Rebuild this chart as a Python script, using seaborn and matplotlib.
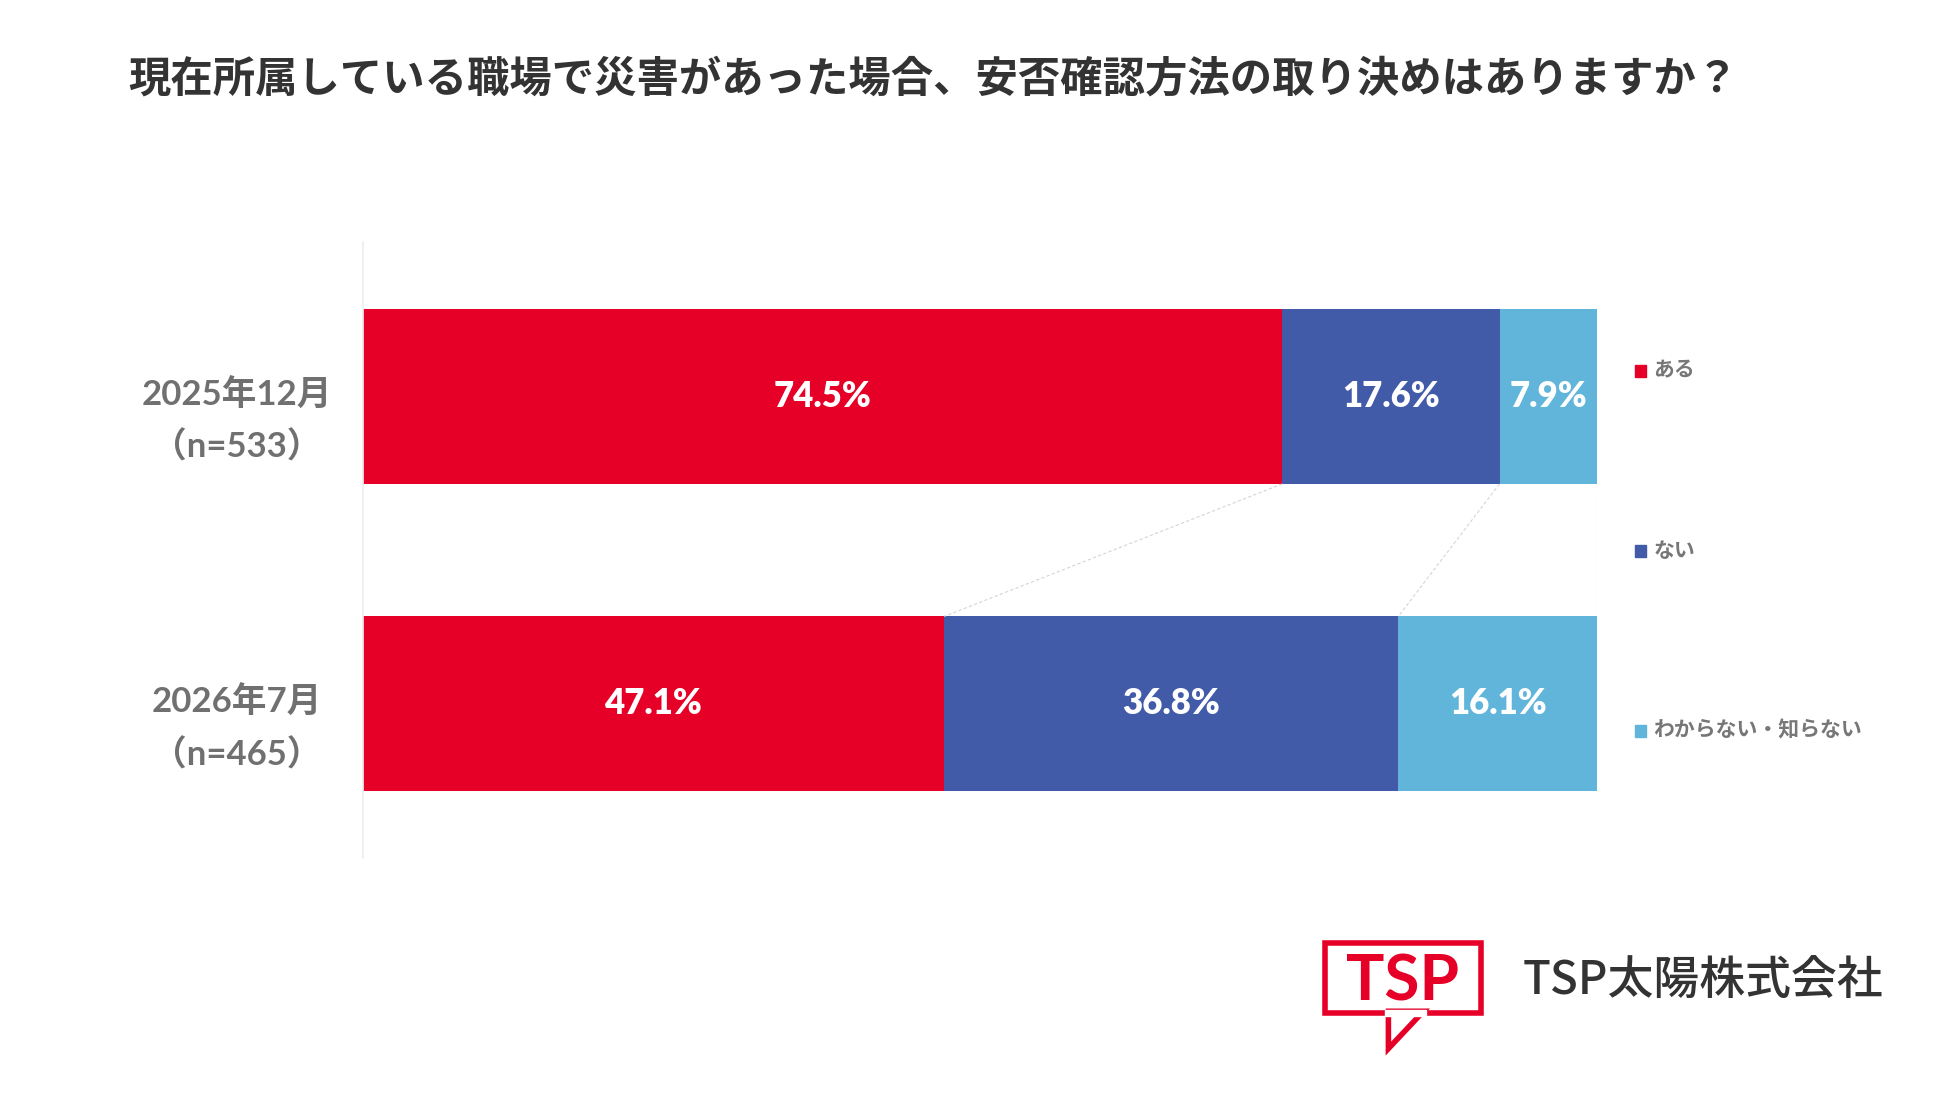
import matplotlib
matplotlib.use("Agg")
import matplotlib.pyplot as plt
import seaborn as sns
import pandas as pd
from matplotlib.patches import Rectangle, Polygon

sns.set_theme(style="white")
plt.rcParams['font.family'] = ['Noto Sans CJK JP', 'DejaVu Sans']
num_font = ['Lato', 'DejaVu Sans']

periods = ["2025年12月\n（n=533）", "2026年7月\n（n=465）"]
categories = ["ある", "ない", "わからない・知らない"]
values = {
    "ある": [74.5, 47.1],
    "ない": [17.6, 36.8],
    "わからない・知らない": [7.9, 16.1],
}
colors = ["#E60027", "#415BA8", "#62B5DA"]

fig = plt.figure(figsize=(19.5, 10.98), dpi=100)
ax = fig.add_axes([0.186, 0.219, 0.633, 0.561])

# cumulative totals, drawn back to front
cum = {}
run = [0, 0]
for c in categories:
    run = [r + v for r, v in zip(run, values[c])]
    cum[c] = list(run)

for c, col in reversed(list(zip(categories, colors))):
    df = pd.DataFrame({"period": periods, "val": cum[c]})
    sns.barplot(data=df, x="val", y="period", color=col, orient="h",
                width=0.569, ax=ax, saturation=1, edgecolor="none")

# labels
for i in range(2):
    left = 0
    for c in categories:
        v = values[c][i]
        ax.text(left + v / 2, i, f"{v}%", ha="center", va="center",
                color="white", fontsize=25, fontweight="heavy", family=num_font)
        left += v

# connecting lines
h = 0.569 / 2
for c in categories:
    ax.plot([cum[c][0], cum[c][1]], [0 + h, 1 - h], color="#d5d5d5", lw=0.8, ls=(0, (3, 2)))

ax.set_xlim(0, 100)
ax.set_ylim(1.5, -0.504)
ax.set_xlabel("")
ax.set_ylabel("")
ax.set_xticks([])
ax.set_yticks([])
for s in ["top", "right", "bottom"]:
    ax.spines[s].set_visible(False)
ax.spines["left"].set_color("#eeeeee")
for i, p in enumerate(periods):
    ax.text(-10.2, i + 0.08, p, ha="center", va="center", fontsize=25, fontweight="bold",
            color="#707070", linespacing=1.7, family=['Lato', 'Noto Sans CJK JP'])

fig.text(0.066, 0.928, "現在所属している職場で災害があった場合、安否確認方法の取り決めはありますか？",
         fontsize=30.5, fontweight="bold", color="#333333", va="center")

# legend
for (c, col, y) in zip(categories, colors, [0.663, 0.499, 0.335]):
    fig.patches.append(Rectangle((0.8385, y - 0.006), 0.0055, 0.0105, transform=fig.transFigure,
                                 color=col))
    fig.text(0.848, y, c, fontsize=15, fontweight="bold", color="#777777", va="center")

# logo
red = "#E60027"
fig.patches.append(Rectangle((0.6795, 0.077), 0.080, 0.064, transform=fig.transFigure,
                             fill=False, edgecolor=red, lw=4))
fig.patches.append(Polygon([(0.712, 0.079), (0.730, 0.079), (0.712, 0.045)], closed=True,
                           transform=fig.transFigure, facecolor="white", edgecolor=red, lw=4))
fig.patches.append(Rectangle((0.7105, 0.0745), 0.021, 0.006, transform=fig.transFigure, color="white"))
fig.text(0.7195, 0.106, "TSP", fontsize=46, fontweight="bold", color=red, ha="center", va="center",
         family=num_font)
fig.text(0.781, 0.106, "TSP太陽株式会社", fontsize=33, fontweight="medium", color="#333333", va="center")

fig.savefig("out.png", dpi=100, facecolor="white")
